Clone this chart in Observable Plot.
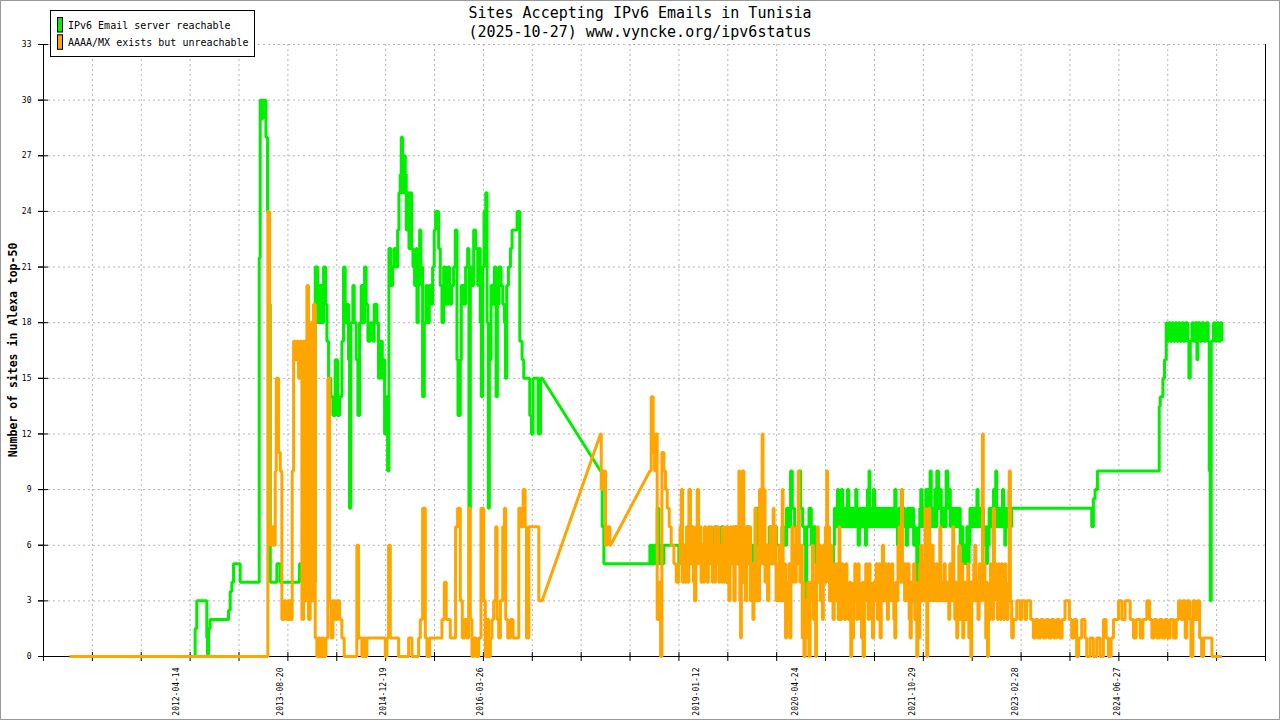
<!DOCTYPE html>
<html><head><meta charset="utf-8">
<script src="https://cdn.jsdelivr.net/npm/d3@7"></script>
<script src="https://cdn.jsdelivr.net/npm/@observablehq/plot@0.6"></script>
<style>body{margin:0;background:#fff}</style>
</head><body>
<script>
// ---- data (decimal year, value) change points ----
const xLabels = ["2012-04-14","2013-08-20","2014-12-19","2016-03-26","2019-01-12","2020-04-24","2021-10-29","2023-02-28","2024-06-27"];
const yTicks = [0,3,6,9,12,15,18,21,24,27,30,33];
const xDomainMs = [1.28e12, 1.78e12];
const gaps = [[2017.025, 2017.783], [2017.913, 2018.423]];

const green = [
[2010.90,0],[2012.527,1.5],[2012.548,3],[2012.678,1],[2012.687,0],[2012.700,1.5],[2012.721,2],
[2012.959,2.5],[2012.981,3.5],[2013.002,4],[2013.024,5],[2013.110,4],
[2013.357,21.5],[2013.370,30],[2013.392,29],[2013.405,30],[2013.444,28],[2013.465,24],[2013.482,19],[2013.500,4],
[2013.586,5],[2013.630,4],[2013.880,5],[2014.062,4],
[2014.084,21],[2014.114,18],[2014.140,20],[2014.170,18],[2014.192,21],[2014.218,19],[2014.235,17],[2014.257,15],[2014.287,14],[2014.313,13],[2014.343,16],[2014.373,13],[2014.399,14],[2014.430,17],[2014.451,21],[2014.473,18],[2014.494,19],[2014.516,16],[2014.529,8],[2014.546,18],[2014.572,20],[2014.590,18],[2014.616,16],[2014.637,13],[2014.659,18],[2014.680,20],[2014.702,18],[2014.724,21],[2014.745,19],[2014.767,17],[2014.797,18],[2014.832,17],[2014.849,19],[2014.884,18],[2014.905,15],
[2014.928,17],[2014.954,15],[2014.971,16],[2014.984,12],[2015.006,14],[2015.023,10],[2015.040,22],[2015.066,20],[2015.088,21],[2015.109,22],[2015.135,21],[2015.153,23],[2015.170,25],[2015.187,26],[2015.200,28],[2015.218,25],[2015.231,27],[2015.252,26],[2015.265,23],[2015.282,25],[2015.300,22],[2015.317,25],[2015.334,22],[2015.352,21],[2015.373,20],[2015.391,22],[2015.404,18],[2015.421,20],[2015.438,23],[2015.455,21],[2015.477,14],[2015.499,18],[2015.520,20],[2015.542,18],[2015.564,20],[2015.585,19],[2015.607,21],[2015.628,23],[2015.646,24],[2015.685,22],[2015.706,20],[2015.728,18],[2015.750,21],[2015.775,19],[2015.801,21],[2015.827,19],[2015.853,20],[2015.879,21],[2015.901,23],[2015.923,16],[2015.936,13],[2015.966,16],[2015.979,20],[2016.009,19],[2016.035,21],[2016.061,22],[2016.078,8],[2016.096,21],[2016.117,20],[2016.139,23],[2016.165,22],[2016.191,20],[2016.208,22],[2016.225,18],[2016.238,14],[2016.256,21],[2016.273,24],[2016.295,25],[2016.312,18],[2016.329,8],[2016.342,16],[2016.364,20],[2016.385,19],[2016.407,21],[2016.429,14],[2016.446,19],[2016.467,21],[2016.493,20],[2016.515,19],[2016.537,18],[2016.550,15],[2016.567,20],[2016.589,21],[2016.615,22],[2016.636,23],[2016.701,24],[2016.736,17],[2016.766,16],[2016.787,15],[2016.865,13],[2016.887,12],[2016.908,15],[2016.973,12],[2017.004,15],[2017.025,15],
[2017.783,10],[2017.805,7],[2017.826,5],[2018.423,6],[2018.453,5],[2018.475,6],[2018.497,5],[2018.518,8],[2018.540,5],[2018.562,6],[2018.583,5],[2018.605,6],[2018.799,5],[2018.821,6],[2018.843,5],[2018.873,6],[2018.908,5],[2018.942,7],[2018.972,6],[2019.003,5],[2019.037,7],[2019.072,5],[2019.102,6],[2019.132,5],[2019.167,6],[2019.202,5],[2019.232,6],[2019.262,7],[2019.288,5],[2019.318,6],[2019.349,7],[2019.383,5],[2019.414,4],[2019.435,6],[2019.470,5],[2019.504,6],[2019.530,7],[2019.556,5],[2019.591,6],[2019.621,4],[2019.651,6],[2019.677,7],[2019.708,5],[2019.738,6],[2019.773,5],[2019.803,8],[2019.837,6],
[2019.902,5],[2019.937,6],[2019.971,7],[2019.997,5],[2020.032,7],[2020.066,6],[2020.101,5],[2020.136,7],[2020.162,6],[2020.196,8],[2020.226,7],[2020.248,10],[2020.270,8],[2020.300,7],[2020.326,6],[2020.356,10],[2020.378,8],[2020.404,7],[2020.430,6],[2020.443,3],[2020.456,7],[2020.486,8],[2020.516,6],[2020.542,7],[2020.572,5],[2020.603,6],[2020.637,5],[2020.672,6],[2020.702,5],[2020.732,6],[2020.767,5],
[2020.802,6],[2020.815,8],[2020.828,7],[2020.841,8],[2020.854,9],[2020.866,7],[2020.879,8],[2020.892,7],[2020.905,9],[2020.922,7],[2020.940,8],[2020.961,7],[2020.983,9],[2021.000,7],[2021.018,8],[2021.033,7],[2021.048,8],[2021.070,7],[2021.091,9],[2021.106,7],[2021.122,6],[2021.139,8],[2021.156,7],[2021.174,8],[2021.191,7],[2021.204,8],[2021.217,6],[2021.230,8],[2021.243,9],[2021.254,7],[2021.264,10],[2021.275,7],[2021.286,8],[2021.303,7],[2021.321,9],[2021.336,7],[2021.351,8],[2021.366,7],[2021.381,8],[2021.398,7],[2021.416,8],[2021.433,7],[2021.450,8],[2021.465,7],[2021.481,8],[2021.496,7],[2021.511,8],[2021.528,7],[2021.545,8],[2021.571,7],[2021.598,9],[2021.615,7],[2021.632,6],[2021.649,8],[2021.667,7],[2021.682,9],[2021.697,7],[2021.712,8],[2021.727,7],[2021.745,6],[2021.762,8],[2021.780,7],[2021.797,8],[2021.812,7],[2021.827,8],[2021.842,6],[2021.857,7],[2021.870,6],[2021.883,4],[2021.896,2],[2021.909,7],[2021.922,8],[2021.935,9],[2021.952,7],[2021.970,8],[2021.985,7],[2022.000,9],[2022.015,7],[2022.030,9],[2022.043,8],[2022.056,10],[2022.071,7],[2022.086,8],[2022.101,7],[2022.117,9],[2022.130,7],[2022.143,10],[2022.165,8],[2022.186,9],[2022.201,7],[2022.216,8],[2022.227,7],[2022.238,8],[2022.251,7],[2022.264,10],[2022.284,8],[2022.303,9],[2022.318,7],[2022.333,8],[2022.350,7],[2022.368,8],[2022.385,7],[2022.402,8],[2022.417,7],[2022.432,8],[2022.447,6],[2022.463,7],[2022.480,5],[2022.497,6],[2022.515,5],[2022.532,7],[2022.547,5],[2022.562,6],[2022.573,8],[2022.584,7],[2022.601,8],[2022.618,7],[2022.633,8],[2022.649,7],[2022.664,9],[2022.679,7],[2022.696,8],[2022.714,7],[2022.731,8],[2022.748,7],[2022.763,6],[2022.778,7],[2022.789,5],[2022.800,7],[2022.811,6],[2022.822,8],[2022.837,7],[2022.852,8],[2022.865,7],[2022.878,9],[2022.893,7],[2022.908,10],[2022.919,7],[2022.930,8],[2022.947,7],[2022.964,8],[2022.980,7],[2022.995,9],[2023.010,7],[2023.025,6],[2023.038,8],[2023.051,7],[2023.066,8],[2023.081,9],[2023.093,7],[2023.115,8],
[2024.153,7],[2024.174,8.5],[2024.196,9],[2024.226,10],[2025.026,13.5],[2025.039,14],[2025.074,15],[2025.095,16],[2025.117,18],[2025.126,17],[2025.147,18],[2025.169,17],[2025.191,18],[2025.212,17],[2025.234,18],[2025.255,17],[2025.277,18],[2025.299,17],[2025.320,18],[2025.342,17],[2025.364,18],[2025.394,17],[2025.411,15],[2025.429,17],[2025.450,18],[2025.472,17],[2025.493,18],[2025.515,16],[2025.528,18],[2025.558,17],[2025.580,18],[2025.610,17],[2025.636,18],[2025.662,17],[2025.675,10],[2025.688,3],[2025.701,17],[2025.731,18],[2025.753,17],[2025.775,18],[2025.796,17],[2025.818,18],[2025.839,17]
];

const orange = [
[2010.90,0],[2013.469,24],[2013.491,7],[2013.508,6],[2013.526,7],[2013.543,6],[2013.565,10],[2013.578,15],[2013.608,11],[2013.630,10],[2013.651,2],[2013.681,3],[2013.707,2],[2013.738,3],[2013.759,2],[2013.785,10],[2013.803,17],[2013.824,16],[2013.846,17],[2013.868,15],[2013.889,17],[2013.911,2],[2013.932,17],[2013.954,3],[2013.976,20],[2013.997,2],[2014.019,18],[2014.040,3],[2014.062,19],[2014.084,1],[2014.105,0],[2014.127,1],[2014.149,0],[2014.170,1],[2014.192,0],[2014.222,1],[2014.248,15],[2014.270,3],[2014.291,1],[2014.313,3],[2014.343,2],[2014.373,3],[2014.399,2],[2014.430,1],[2014.460,0],[2014.624,6],[2014.646,1],[2014.689,0],[2014.711,1],[2014.732,0],[2014.754,1],
[2014.993,0],[2015.014,1],[2015.036,6],[2015.058,1],[2015.166,0],[2015.295,1],[2015.339,0],[2015.425,1],[2015.447,2],[2015.477,8],[2015.512,1],[2015.534,0],[2015.568,1],[2015.728,2],[2015.758,4],[2015.784,2],[2015.836,1],[2015.905,7],[2015.931,8],[2015.966,3],[2015.992,1],[2016.022,2],[2016.052,1],[2016.074,8],[2016.096,2],[2016.117,0],[2016.147,1],[2016.173,0],[2016.204,1],[2016.234,8],[2016.269,3],[2016.290,0],[2016.312,2],[2016.334,0],[2016.355,1],[2016.377,2],[2016.398,3],[2016.424,7],[2016.442,2],[2016.463,1],[2016.485,3],[2016.515,7],[2016.537,8],[2016.554,2],[2016.580,1],[2016.615,2],[2016.649,1],[2016.723,8],[2016.753,7],[2016.779,9],[2016.805,7],[2016.822,1],[2016.853,7],[2016.982,3],[2017.025,3],
[2017.783,12],[2017.792,9],[2017.805,10],[2017.848,6],[2017.870,7],[2017.904,6],[2017.913,6],
[2018.423,10],[2018.440,14],[2018.466,11],[2018.484,10],[2018.501,12],[2018.518,2],[2018.544,4],[2018.562,0],[2018.579,11],[2018.605,10],[2018.626,9],[2018.648,8],[2018.674,7],[2018.700,6],[2018.735,5],[2018.765,4],
[2018.799,5],[2018.815,7],[2018.830,9],[2018.847,4],[2018.864,6],[2018.881,4],[2018.899,7],[2018.914,4],[2018.929,9],[2018.950,5],[2018.972,7],[2018.987,4],[2019.003,3],[2019.020,7],[2019.037,9],[2019.055,5],[2019.072,7],[2019.087,4],[2019.102,6],[2019.117,4],[2019.132,7],[2019.150,5],[2019.167,4],[2019.182,7],[2019.197,5],[2019.215,7],[2019.232,4],[2019.247,6],[2019.262,4],[2019.275,7],[2019.288,5],[2019.303,7],[2019.318,4],[2019.333,6],[2019.349,4],[2019.366,7],[2019.383,4],[2019.398,6],[2019.414,7],[2019.431,4],[2019.448,3],[2019.463,7],[2019.478,5],[2019.495,7],[2019.513,3],[2019.530,7],[2019.548,5],[2019.563,7],[2019.578,10],[2019.590,3],[2019.600,1],[2019.610,7],[2019.621,10],[2019.642,4],[2019.664,3],[2019.681,7],[2019.699,5],[2019.714,7],[2019.729,3],[2019.745,5],[2019.760,2],[2019.773,5],[2019.786,8],[2019.801,3],[2019.816,5],[2019.831,3],[2019.846,9],[2019.863,5],
[2019.880,12],[2019.891,7],[2019.902,9],[2019.917,4],[2019.932,6],[2019.950,3],[2019.967,5],[2019.982,7],[2019.997,5],[2020.010,7],[2020.023,8],[2020.034,5],[2020.045,7],[2020.060,3],[2020.075,5],[2020.090,3],[2020.105,6],[2020.122,3],[2020.140,9],[2020.151,4],[2020.162,3],[2020.172,5],[2020.183,1],[2020.198,4],[2020.213,2],[2020.226,5],[2020.239,1],[2020.252,5],[2020.265,7],[2020.278,4],[2020.291,6],[2020.306,4],[2020.321,7],[2020.334,5],[2020.347,10],[2020.358,6],[2020.369,4],[2020.384,6],[2020.399,1],[2020.410,4],[2020.421,0],[2020.438,3],[2020.456,1],[2020.471,4],[2020.486,0],[2020.501,4],[2020.516,3],[2020.529,6],[2020.542,2],[2020.557,4],[2020.572,0],[2020.583,5],[2020.594,7],[2020.607,4],[2020.620,6],[2020.633,3],[2020.646,5],[2020.659,2],[2020.672,6],[2020.685,4],[2020.698,7],[2020.707,4],[2020.715,10],[2020.726,5],[2020.737,7],[2020.752,3],[2020.767,6],[2020.782,4],[2020.797,2],[2020.812,5],[2020.828,3],[2020.841,5],[2020.854,4],[2020.865,2],[2020.875,7],[2020.886,4],[2020.897,2],[2020.912,5],[2020.927,4],[2020.945,2],[2020.962,5],[2020.977,3],[2020.992,2],[2021.010,4],[2021.027,0],[2021.038,3],[2021.048,1],[2021.063,4],[2021.079,5],[2021.091,3],[2021.104,2],[2021.120,5],[2021.135,4],[2021.150,2],[2021.165,1],[2021.176,4],[2021.187,0],[2021.204,4],[2021.221,5],[2021.236,3],[2021.251,2],[2021.264,5],[2021.277,4],[2021.292,2],[2021.308,1],[2021.323,4],[2021.338,3],[2021.356,5],[2021.373,2],[2021.390,5],[2021.407,1],[2021.422,4],[2021.437,6],[2021.452,3],[2021.468,5],[2021.485,3],[2021.502,2],[2021.515,5],[2021.528,4],
[2021.546,3],[2021.559,5],[2021.572,4],[2021.585,2],[2021.598,1],[2021.611,4],[2021.624,3],[2021.639,6],[2021.654,7],[2021.669,4],[2021.684,9],[2021.697,4],[2021.710,5],[2021.725,3],[2021.740,5],[2021.755,3],[2021.771,5],[2021.784,2],[2021.797,1],[2021.812,4],[2021.827,3],[2021.842,5],[2021.857,2],[2021.870,4],[2021.883,0],[2021.896,3],[2021.909,1],[2021.922,5],[2021.935,6],[2021.950,3],[2021.965,5],[2021.978,3],[2021.991,8],[2022.002,4],[2022.013,0],[2022.026,5],[2022.039,8],[2022.052,3],[2022.065,4],[2022.080,6],[2022.095,3],[2022.108,5],[2022.121,3],[2022.136,5],[2022.151,3],[2022.166,5],[2022.182,7],[2022.195,3],[2022.207,4],[2022.222,3],[2022.238,5],[2022.253,3],[2022.268,4],[2022.283,3],[2022.298,2],[2022.311,5],[2022.324,4],[2022.337,3],[2022.350,7],[2022.363,3],[2022.376,2],[2022.389,4],[2022.402,1],[2022.415,4],[2022.428,6],[2022.441,2],[2022.454,3],[2022.467,5],[2022.480,1],[2022.493,3],[2022.506,4],[2022.519,2],[2022.532,3],[2022.545,5],[2022.558,1],[2022.571,4],[2022.584,0],[2022.597,4],[2022.610,3],[2022.623,5],[2022.636,6],[2022.649,3],[2022.662,4],[2022.677,2],[2022.692,5],[2022.703,3],[2022.714,4],[2022.725,3],[2022.735,12],[2022.746,4],[2022.757,5],[2022.768,3],[2022.778,1],[2022.789,4],[2022.800,0],[2022.813,3],[2022.826,2],[2022.839,5],[2022.852,4],[2022.865,2],[2022.878,8],[2022.891,4],[2022.904,5],[2022.917,3],[2022.930,2],[2022.943,5],[2022.956,4],[2022.969,2],[2022.982,5],[2022.995,3],[2023.008,2],[2023.023,5],[2023.038,4],[2023.053,2],[2023.068,3],[2023.083,10],[2023.098,3],
[2023.115,1],[2023.136,2],[2023.180,3],[2023.223,2],[2023.244,3],[2023.288,2],[2023.309,3],[2023.361,2],[2023.396,1],[2023.422,2],[2023.456,1],[2023.491,2],[2023.526,1],[2023.560,2],[2023.595,1],[2023.629,2],[2023.664,1],[2023.699,2],[2023.733,1],[2023.768,2],[2023.807,3],[2023.863,2],[2023.893,1],[2023.923,2],[2023.958,0],[2023.984,1],[2024.023,2],[2024.066,1],[2024.088,0],[2024.131,1],[2024.174,0],[2024.218,1],[2024.261,0],[2024.304,2],[2024.339,1],[2024.369,0],[2024.404,1],[2024.434,2],[2024.499,3],[2024.542,2],[2024.585,3],[2024.650,2],[2024.693,1],[2024.728,2],[2024.780,1],[2024.814,2],[2024.866,3],[2024.901,2],[2024.931,1],[2024.961,2],[2024.996,1],[2025.031,2],[2025.065,1],[2025.100,2],[2025.134,1],[2025.169,2],[2025.212,1],[2025.247,2],[2025.277,3],[2025.307,2],[2025.333,3],[2025.364,1],[2025.385,3],[2025.420,2],[2025.437,0],[2025.463,3],[2025.493,2],[2025.524,3],[2025.550,1],[2025.576,0],[2025.602,1],[2025.688,1],[2025.710,0],[2025.839,0]
];

// ---- helpers ----
function yearToDate(y) {
  const yr = Math.floor(y);
  const s = Date.UTC(yr, 0, 1), e = Date.UTC(yr + 1, 0, 1);
  return new Date(s + (y - yr) * (e - s));
}
function toPath(series) {
  const pts = [];
  series.forEach(([t, v], i) => {
    if (i > 0) {
      const [pt, pv] = series[i - 1];
      const isGap = gaps.some(g => Math.abs(g[0] - pt) < 1e-6 && Math.abs(g[1] - t) < 1e-6);
      if (!isGap) pts.push({date: yearToDate(t), value: pv});
    }
    pts.push({date: yearToDate(t), value: v});
  });
  return pts;
}

const xDomain = xDomainMs.map(d => new Date(d));
const xTicks = d3.range(64, 90).map(k => new Date(k * 2e10));
const labelDates = xLabels.map(s => new Date(s + "T00:00:00Z"));
const fmt = d3.utcFormat("%Y-%m-%d");
const GREEN = "#00ee00", ORANGE = "#ffa500", GRID = "#b4b4b4";
const FONT = "'DejaVu Sans Mono', 'Liberation Mono', monospace";

const chart = Plot.plot({
  width: 1280, height: 720,
  marginTop: 44, marginRight: 15, marginBottom: 64, marginLeft: 43,
  style: {fontFamily: FONT, fontSize: "8px", background: "#fff", color: "#000"},
  x: {type: "utc", domain: xDomain},
  y: {domain: [0, 33]},
  marks: [
    Plot.ruleY(yTicks.filter(d => d > 0), {stroke: GRID, strokeDasharray: "2,3"}),
    Plot.ruleX(xTicks, {stroke: GRID, strokeDasharray: "2,3"}),
    Plot.ruleX([xDomain[0]], {stroke: "#000"}),
    Plot.ruleX([xDomain[1]], {stroke: "#000"}),
    Plot.ruleY([0], {stroke: "#000"}),
    Plot.axisY({ticks: yTicks, tickSize: 10, dx: 5, tickFormat: () => "", label: null}),
    Plot.axisY({ticks: yTicks, tickSize: 5, tickPadding: 7, label: null, fontSize: 8, tickFormat: d => String(d)}),
    Plot.axisX({ticks: xTicks, tickSize: 9, dy: -4, tickFormat: () => "", label: null}),
    Plot.axisX({ticks: labelDates, tickSize: 0, tickPadding: 11, tickRotate: -90, tickFormat: d => fmt(d), label: null, fontSize: 8}),
    Plot.line(toPath(green), {x: "date", y: "value", stroke: GREEN, strokeWidth: 3, strokeLinejoin: "miter", strokeLinecap: "butt"}),
    Plot.line(toPath(orange), {x: "date", y: "value", stroke: ORANGE, strokeWidth: 3, strokeLinejoin: "miter", strokeLinecap: "butt"})
  ]
});
document.body.appendChild(chart);

// ---- decorations: frame, title, y label, legend ----
const svg = d3.select(chart);
svg.append("rect").attr("x", 0.5).attr("y", 0.5).attr("width", 1279).attr("height", 719)
  .attr("fill", "none").attr("stroke", "#999");
const title = svg.append("g").attr("font-family", FONT).attr("font-size", 15).attr("text-anchor", "middle").attr("fill", "#000");
title.append("text").attr("x", 640).attr("y", 18).text("Sites Accepting IPv6 Emails in Tunisia");
title.append("text").attr("x", 640).attr("y", 37).text("(2025-10-27) www.vyncke.org/ipv6status");
svg.append("text").attr("transform", "translate(17,350) rotate(-90)")
  .attr("font-family", FONT).attr("font-size", 11.5).attr("font-weight", "bold")
  .attr("text-anchor", "middle").attr("fill", "#000").text("Number of sites in Alexa top-50");
const lg = svg.append("g").attr("font-family", FONT).attr("font-size", 10).attr("fill", "#000").attr("text-anchor", "start");
lg.append("rect").attr("x", 50.5).attr("y", 10.5).attr("width", 204).attr("height", 46).attr("fill", "#fff").attr("stroke", "#000");
const legendItems = [["IPv6 Email server reachable", GREEN], ["AAAA/MX exists but unreachable", ORANGE]];
legendItems.forEach(([label, color], i) => {
  lg.append("rect").attr("x", 57.5).attr("y", 17.5 + i * 17.3).attr("width", 5).attr("height", 14.5)
    .attr("fill", color).attr("stroke", "#000");
  lg.append("text").attr("x", 68).attr("y", 28.5 + i * 17.3).attr("text-anchor", "start").text(label);
});
</script>
</body></html>
